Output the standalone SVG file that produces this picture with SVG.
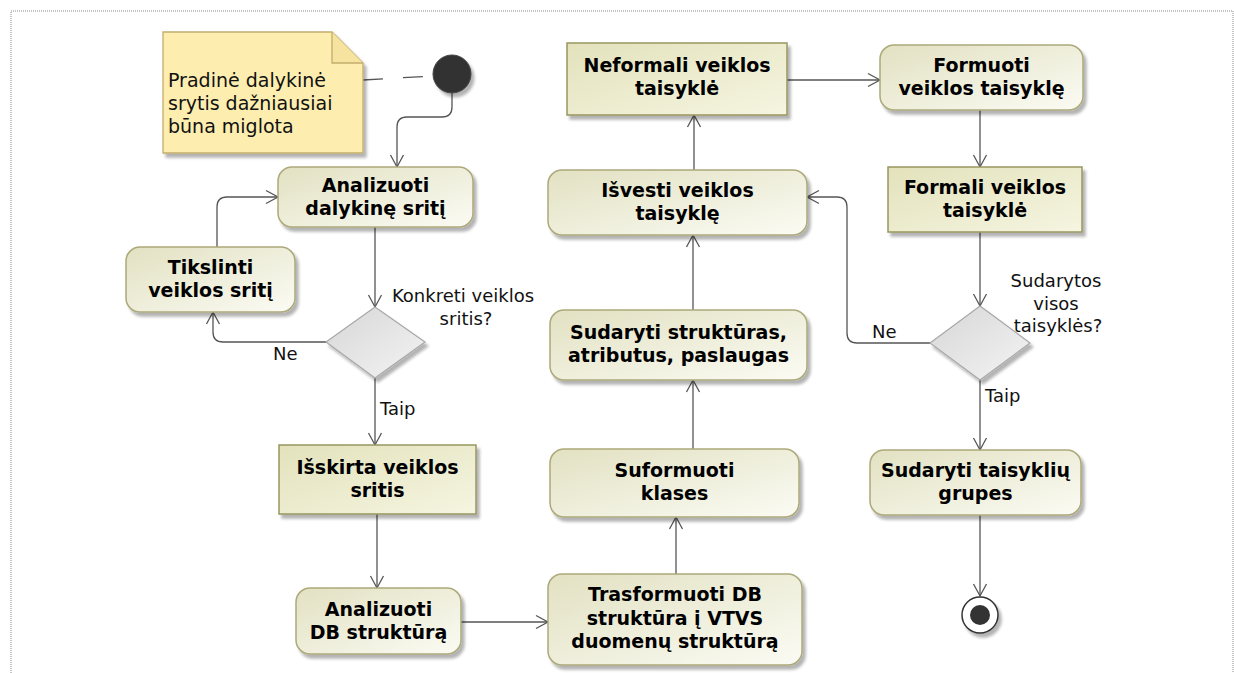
<svg xmlns="http://www.w3.org/2000/svg" width="1234" height="673" viewBox="0 0 1234 673">
  <defs>
    <linearGradient id="gAction" x1="0" y1="0" x2="1" y2="1">
      <stop offset="0" stop-color="#e2e1c2"/>
      <stop offset="1" stop-color="#fbfbf4"/>
    </linearGradient>
    <linearGradient id="gObject" x1="0" y1="0" x2="1" y2="1">
      <stop offset="0" stop-color="#e3e2bc"/>
      <stop offset="1" stop-color="#f5f5e1"/>
    </linearGradient>
    <linearGradient id="gDecision" x1="0" y1="0" x2="1" y2="1">
      <stop offset="0" stop-color="#d6d6d6"/>
      <stop offset="1" stop-color="#f4f4f4"/>
    </linearGradient>
    <filter id="shadow" x="-10%" y="-10%" width="130%" height="140%">
      <feGaussianBlur in="SourceAlpha" stdDeviation="1.5"/>
      <feOffset dx="3" dy="4" result="b"/>
      <feComponentTransfer><feFuncA type="linear" slope="0.3"/></feComponentTransfer>
      <feMerge><feMergeNode/><feMergeNode in="SourceGraphic"/></feMerge>
    </filter>
    <marker id="arrow" markerWidth="16" markerHeight="16" refX="13" refY="8" orient="auto" markerUnits="userSpaceOnUse">
      <path d="M1,1.5 L13,8 L1,14.5" fill="none" stroke="#555" stroke-width="1.3"/>
    </marker>
  </defs>
  <style>
    .action { fill: url(#gAction); stroke: #aca97a; stroke-width: 1.5; filter: url(#shadow); }
    .object { fill: url(#gObject); stroke: #98965f; stroke-width: 1.5; filter: url(#shadow); }
    .decision { fill: url(#gDecision); stroke: #a8a8a8; stroke-width: 1.2; filter: url(#shadow); }
    .bold { font-family: "DejaVu Sans", Verdana, sans-serif; font-weight: bold; font-size: 19px; fill: #000; text-anchor: middle; }
    .lbl { font-family: "DejaVu Sans", Verdana, sans-serif; font-size: 18px; fill: #111; }
    .conn { fill: none; stroke: #555; stroke-width: 1.3; }
    .arr { marker-end: url(#arrow); }
  </style>

  <rect width="1234" height="673" fill="#fff"/>
  <!-- frame -->
  <path d="M11,673 V11 H1233 V673" fill="none" stroke="#8a8a8a" stroke-width="1" stroke-dasharray="1 1"/>

  <!-- connectors -->
  <g id="connectors">
    <path class="conn" d="M363,80 L433,76" stroke-dasharray="20 20"/>
    <path class="conn arr" d="M452,93 V107 Q452,117 442,117 H407 Q397,117 397,127 V167"/>
    <path class="conn arr" d="M375,227 V307"/>
    <path class="conn arr" d="M326,342 H223 Q213,342 213,332 V312"/>
    <path class="conn arr" d="M217,247 V207 Q217,197 227,197 H278"/>
    <path class="conn arr" d="M375,378 V445"/>
    <path class="conn arr" d="M377,514 V588"/>
    <path class="conn arr" d="M461,622 H548"/>
    <path class="conn arr" d="M676,574 V517"/>
    <path class="conn arr" d="M693,449 V380"/>
    <path class="conn arr" d="M693,310 V235"/>
    <path class="conn arr" d="M694,170 V115"/>
    <path class="conn arr" d="M787,80 H880"/>
    <path class="conn arr" d="M980,110 V167"/>
    <path class="conn arr" d="M980,232 V306"/>
    <path class="conn arr" d="M930,343 H857 Q847,343 847,333 V207 Q847,197 837,197 H807"/>
    <path class="conn arr" d="M980,380 V450"/>
    <path class="conn arr" d="M980,515 V596"/>
  </g>

  <!-- comment note -->
  <g id="note">
    <path d="M163,32 H332 L363,63 V153 H163 Z" fill="#fdeeb0" stroke="#c2ad6c" stroke-width="1.3" filter="url(#shadow)"/>
    <path d="M332,32 V63 H363" fill="#f7e3a0" stroke="#c2ad6c" stroke-width="1.3"/>
    <text class="lbl" style="font-size:19px" x="168" y="87">Pradinė dalykinė</text>
    <text class="lbl" style="font-size:19px" x="168" y="110">srytis dažniausiai</text>
    <text class="lbl" style="font-size:19px" x="168" y="133">būna miglota</text>
  </g>

  <g id="initial">
    <circle cx="452" cy="74" r="19" fill="#333" stroke="#444" stroke-width="1" filter="url(#shadow)"/>
  </g>

  <g id="analizuoti-sriti">
    <rect class="action" x="278" y="167" width="195" height="60" rx="14"/>
    <text class="bold" x="375.5" y="192">Analizuoti</text>
    <text class="bold" x="375.5" y="215">dalykinę sritį</text>
  </g>

  <g id="tikslinti">
    <rect class="action" x="126" y="247" width="169" height="65" rx="14"/>
    <text class="bold" x="210.5" y="274">Tikslinti</text>
    <text class="bold" x="210.5" y="297">veiklos sritį</text>
  </g>

  <g id="decision-sritis">
    <path class="decision" d="M375,307 L425,342 L375,378 L326,342 Z"/>
    <text class="lbl" x="463" y="302" text-anchor="middle">Konkreti veiklos</text>
    <text class="lbl" x="466" y="325" text-anchor="middle">sritis?</text>
    <text class="lbl" x="273" y="360">Ne</text>
    <text class="lbl" x="380" y="415">Taip</text>
  </g>

  <g id="isskirta">
    <rect class="object" x="279" y="445" width="197" height="69"/>
    <text class="bold" x="377.5" y="474">Išskirta veiklos</text>
    <text class="bold" x="377.5" y="497">sritis</text>
  </g>

  <g id="analizuoti-db">
    <rect class="action" x="296" y="588" width="165" height="66" rx="14"/>
    <text class="bold" x="378.5" y="616">Analizuoti</text>
    <text class="bold" x="378.5" y="639">DB struktūrą</text>
  </g>

  <g id="trasformuoti">
    <rect class="action" x="548" y="574" width="254" height="91" rx="14"/>
    <text class="bold" x="675" y="601">Trasformuoti DB</text>
    <text class="bold" x="675" y="625">struktūra į VTVS</text>
    <text class="bold" x="675" y="648">duomenų struktūrą</text>
  </g>

  <g id="suformuoti">
    <rect class="action" x="550" y="449" width="249" height="68" rx="14"/>
    <text class="bold" x="674.5" y="477">Suformuoti</text>
    <text class="bold" x="674.5" y="500">klases</text>
  </g>

  <g id="sudaryti-strukturas">
    <rect class="action" x="550" y="310" width="257" height="70" rx="14"/>
    <text class="bold" x="678.5" y="339">Sudaryti struktūras,</text>
    <text class="bold" x="678.5" y="362">atributus, paslaugas</text>
  </g>

  <g id="isvesti">
    <rect class="action" x="548" y="170" width="259" height="65" rx="14"/>
    <text class="bold" x="677.5" y="197">Išvesti veiklos</text>
    <text class="bold" x="677.5" y="220">taisyklę</text>
  </g>

  <g id="neformali">
    <rect class="object" x="567" y="43" width="220" height="72"/>
    <text class="bold" x="677" y="72">Neformali veiklos</text>
    <text class="bold" x="677" y="95">taisyklė</text>
  </g>

  <g id="formuoti">
    <rect class="action" x="880" y="45" width="203" height="65" rx="14"/>
    <text class="bold" x="981.5" y="72">Formuoti</text>
    <text class="bold" x="981.5" y="95">veiklos taisyklę</text>
  </g>

  <g id="formali">
    <rect class="object" x="888" y="167" width="194" height="65"/>
    <text class="bold" x="985" y="194">Formali veiklos</text>
    <text class="bold" x="985" y="217">taisyklė</text>
  </g>

  <g id="decision-taisykles">
    <path class="decision" d="M980,306 L1030,343 L980,380 L930,343 Z"/>
    <text class="lbl" x="1056" y="287" text-anchor="middle">Sudarytos</text>
    <text class="lbl" x="1056" y="310" text-anchor="middle">visos</text>
    <text class="lbl" x="1058" y="332" text-anchor="middle">taisyklės?</text>
    <text class="lbl" x="872" y="338">Ne</text>
    <text class="lbl" x="985" y="402">Taip</text>
  </g>

  <g id="grupes">
    <rect class="action" x="870" y="450" width="211" height="65" rx="14"/>
    <text class="bold" x="975.5" y="477">Sudaryti taisyklių</text>
    <text class="bold" x="975.5" y="500">grupes</text>
  </g>

  <g id="final">
    <circle cx="980" cy="615" r="18" fill="#fff" stroke="#333" stroke-width="1.5" filter="url(#shadow)"/>
    <circle cx="980" cy="615" r="10" fill="#333"/>
  </g>
</svg>
